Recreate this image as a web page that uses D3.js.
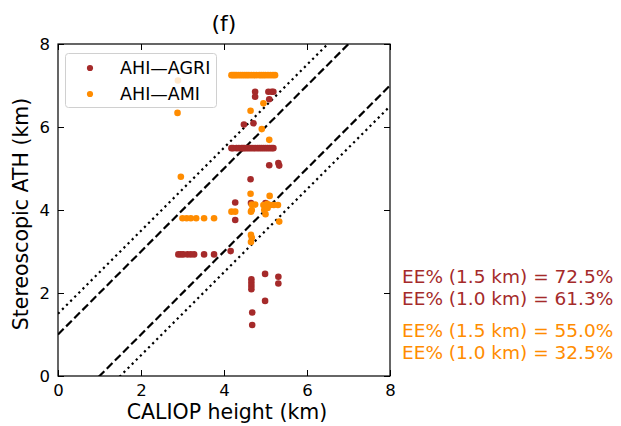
<!DOCTYPE html>
<html><head><meta charset="utf-8">
<script src="https://cdn.jsdelivr.net/npm/d3@7"></script>
<style>body{margin:0;background:#fff}svg{display:block;font-family:"DejaVu Sans",sans-serif}</style>
</head><body>
<script>
const seriesNames = ["AHI—AGRI", "AHI—AMI"];
const seriesColors = ["#a52a2a", "#ff8c00"];
const agriX = [2.9,2.96,3.02,3.12,3.2,3.28,3.52,3.76,4.16,4.27,4.27,4.65,5.0,4.64,5.09,5.31,5.33,
  4.18,4.22,4.3,4.36,4.42,4.46,4.5,4.55,4.6,4.65,4.7,4.75,4.8,4.85,4.9,4.95,5.0,5.05,5.1,5.15,5.19,
  4.48,4.71,4.75,4.75,5.07,5.15,5.19,5.09,4.66,4.66,4.66,4.66,4.99,5.31,5.31,4.99,4.68,4.68];
const agriY = [2.93,2.93,2.93,2.93,2.93,2.93,2.93,2.93,3.01,4.18,3.76,4.17,4.17,4.74,5.08,5.13,5.07,
  5.49,5.49,5.49,5.49,5.49,5.49,5.49,5.49,5.49,5.49,5.49,5.49,5.49,5.49,5.49,5.49,5.49,5.49,5.49,5.49,5.49,
  6.06,6.09,6.85,6.73,6.85,6.85,6.85,6.67,2.33,2.25,2.17,2.09,2.46,2.39,2.23,1.81,1.53,1.23];
const amiX = [2.89,2.88,2.96,
  4.18,4.22,4.26,4.3,4.35,4.4,4.45,4.5,4.55,4.6,4.66,4.72,4.78,4.85,4.9,4.95,5.0,5.06,5.12,5.18,5.23,
  4.95,4.64,4.91,5.09,4.64,5.1,
  4.67,4.75,4.95,5.04,5.12,5.2,5.3,
  4.18,4.27,4.65,4.67,4.97,5.0,5.05,5.33,
  3.0,3.1,3.2,3.33,3.52,3.76,
  4.65,4.67,4.65];
const amiY = [7.12,6.34,4.8,
  7.25,7.25,7.25,7.25,7.25,7.25,7.25,7.25,7.25,7.25,7.25,7.25,7.25,7.25,7.25,7.25,7.25,7.25,7.25,7.25,7.25,
  6.57,6.39,5.95,5.69,4.39,4.34,
  4.13,4.13,4.12,4.15,4.12,4.12,4.12,
  3.96,3.96,3.96,4.0,4.0,3.9,4.05,3.72,
  3.8,3.8,3.8,3.8,3.8,3.8,
  3.4,3.33,3.23];
const xTicks = [0,2,4,6,8];
const yTicks = [0,2,4,6,8];
const dashedOffsets = [1,-1];
const dottedOffsets = [1.5,-1.5];
const eeLabels = ["EE% (1.5 km) = 72.5%","EE% (1.0 km) = 61.3%","EE% (1.5 km) = 55.0%","EE% (1.0 km) = 32.5%"];
const eeSeries = [0,0,1,1];

const W=621,H=426;
const L=58,R=390,T=44,B=376;
const svg=d3.select("body").append("svg").attr("width",W).attr("height",H);
const x=d3.scaleLinear().domain([0,8]).range([L,R]);
const y=d3.scaleLinear().domain([0,8]).range([B,T]);

svg.append("defs").append("clipPath").attr("id","clip").append("rect")
  .attr("x",L).attr("y",T).attr("width",R-L).attr("height",B-T);

const g=svg.append("g").attr("clip-path","url(#clip)");
const lineFor=o=>[[0,o],[8,8+o]];
const ln=d3.line().x(d=>x(d[0])).y(d=>y(d[1]));
g.selectAll(".dash").data(dashedOffsets).join("path").attr("d",d=>ln(lineFor(d)))
  .attr("fill","none").attr("stroke","#000").attr("stroke-width",2.2).attr("stroke-dasharray","8,3.5");
g.selectAll(".dot").data(dottedOffsets).join("path").attr("d",d=>ln(lineFor(d)))
  .attr("fill","none").attr("stroke","#000").attr("stroke-width",2.2).attr("stroke-dasharray","2.2,3.6");

const series=[agriX.map((v,i)=>[v,agriY[i]]), amiX.map((v,i)=>[v,amiY[i]])];
series.forEach((pts,si)=>{
  g.append("g").selectAll("circle").data(pts).join("circle")
   .attr("cx",d=>x(d[0])).attr("cy",d=>y(d[1])).attr("r",3.3).attr("fill",seriesColors[si]);
});

// axes with inward ticks on all sides
const tl=6;
const axB=d3.axisBottom(x).tickValues(xTicks).tickSizeInner(-tl).tickSizeOuter(0).tickPadding(8);
const axT=d3.axisTop(x).tickValues(xTicks).tickSizeInner(-tl).tickSizeOuter(0).tickFormat("");
const axL=d3.axisLeft(y).tickValues(yTicks).tickSizeInner(-tl).tickSizeOuter(0).tickPadding(8);
const axR=d3.axisRight(y).tickValues(yTicks).tickSizeInner(-tl).tickSizeOuter(0).tickFormat("");
[[axB,`translate(0,${B})`],[axT,`translate(0,${T})`],[axL,`translate(${L},0)`],[axR,`translate(${R},0)`]].forEach(([a,t])=>{
  const ag=svg.append("g").attr("transform",t).call(a);
  ag.select(".domain").remove();
  ag.selectAll("line").attr("stroke","#000").attr("stroke-width",1);
  ag.selectAll("text").attr("font-size",16.5).attr("fill","#000").attr("font-family","DejaVu Sans");
});
svg.append("rect").attr("x",L).attr("y",T).attr("width",R-L).attr("height",B-T)
  .attr("fill","none").attr("stroke","#000").attr("stroke-width",1.2);

// legend
const lg=svg.append("g");
lg.append("rect").attr("x",65.5).attr("y",53.5).attr("width",151).attr("height",54).attr("rx",3)
  .attr("fill","#fff").attr("fill-opacity",0.8).attr("stroke","#d0d0d0");
seriesNames.forEach((n,i)=>{
  lg.append("circle").attr("cx",90).attr("cy",68+i*26).attr("r",3.1).attr("fill",seriesColors[i]);
  lg.append("text").attr("x",120).attr("y",68+i*26).attr("dy","0.36em").attr("font-size",17.5).text(n);
});

// labels
svg.append("text").attr("x",224).attr("y",31).attr("text-anchor","middle").attr("font-size",22).text("(f)");
svg.append("text").attr("x",227).attr("y",419).attr("text-anchor","middle").attr("font-size",20.5).text("CALIOP height (km)");
svg.append("text").attr("transform","translate(28,214) rotate(-90)").attr("text-anchor","middle").attr("font-size",20.5).text("Stereoscopic ATH (km)");

const eeY=[283,305,337,359];
eeLabels.forEach((t,i)=>{
  svg.append("text").attr("x",402).attr("y",eeY[i]).attr("font-size",18.5).attr("fill",seriesColors[eeSeries[i]]).text(t);
});
</script>
</body></html>
